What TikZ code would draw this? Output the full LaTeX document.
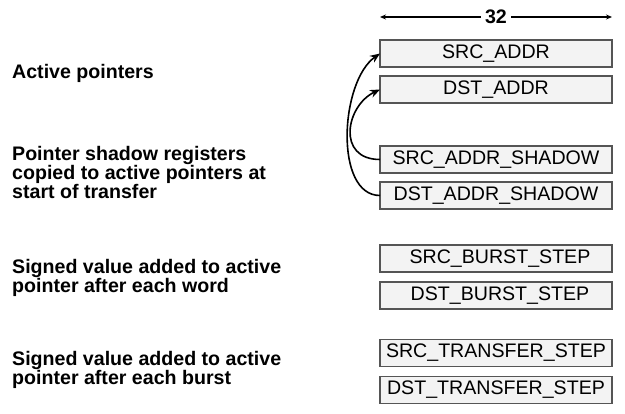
\documentclass[tikz,border=0pt]{standalone}
\usepackage{fontspec}
\setmainfont{Liberation Sans}
\usetikzlibrary{positioning, arrows.meta, calc}
\definecolor{regedge}{HTML}{555555}
\definecolor{regfill}{HTML}{F3F3F3}

\begin{document}
\begin{tikzpicture}[
    x=1pt, y=-1pt,
    node distance=9pt,
    regbox/.style={draw=regedge, fill=regfill, line width=1.1pt, minimum width=232pt,
                   minimum height=27pt, inner sep=0pt, outer sep=0pt,
                   font=\fontsize{19.6}{19.6}\selectfont},
    note/.style={anchor=north west, inner sep=0pt, align=left,
                 font=\fontsize{19.6}{19}\selectfont\bfseries},
    arr/.style={-{Stealth[length=10pt, width=8pt]}, line width=1.6pt},
    dimarr/.style={{Stealth[length=6pt, width=5pt]}-{Stealth[length=6pt, width=5pt]}, line width=1.2pt},
  ]
  \useasboundingbox (0,0) rectangle (625,414);

  % ── Registers ──
  \node[regbox] (srcaddr) at (496,53.5) {SRC\_ADDR};
  \node[regbox, below=of srcaddr] (dstaddr) {DST\_ADDR};
  \node[regbox, below=43pt of dstaddr] (srcshadow) {SRC\_ADDR\_SHADOW};
  \node[regbox, below=of srcshadow] (dstshadow) {DST\_ADDR\_SHADOW};
  \node[regbox, below=36pt of dstshadow] (srcburst) {\hspace{8pt}SRC\_BURST\_STEP};
  \node[regbox, below=10pt of srcburst] (dstburst) {\hspace{8pt}DST\_BURST\_STEP};
  \node[regbox, below=30.5pt of dstburst] (srcxfer) {SRC\_TRANSFER\_STEP};
  \node[regbox, below=10pt of srcxfer] (dstxfer) {DST\_TRANSFER\_STEP};

  % ── Width ──
  \coordinate (wleft) at (srcaddr.west |- 0,17);
  \coordinate (wright) at (srcaddr.east |- 0,17);
  \draw[dimarr] (wleft) -- (wright);
  \node[fill=white, inner sep=4pt, font=\fontsize{19.6}{19.6}\selectfont\bfseries] (width) at ($(wleft)!0.5!(wright)$) {32};

  % ── Descriptions ──
  \node[note] (active) at (12,64) {Active pointers};
  \node[note] (shadow) at (12,146) {Pointer shadow registers\\copied to active pointers at\\start of transfer};
  \node[note] (wordstep) at (12,259) {Signed value added to active\\pointer after each word};
  \node[note] (burststep) at (12,351) {Signed value added to active\\pointer after each burst};

  % ── Copy at start of transfer ──
  \draw[arr] (srcshadow.west) .. controls +(-44,0) and +(-34,16) .. (dstaddr.west);
  \draw[arr] (dstshadow.west) .. controls +(-46,0) and +(-40,28) .. (srcaddr.west);

\end{tikzpicture}
\end{document}
